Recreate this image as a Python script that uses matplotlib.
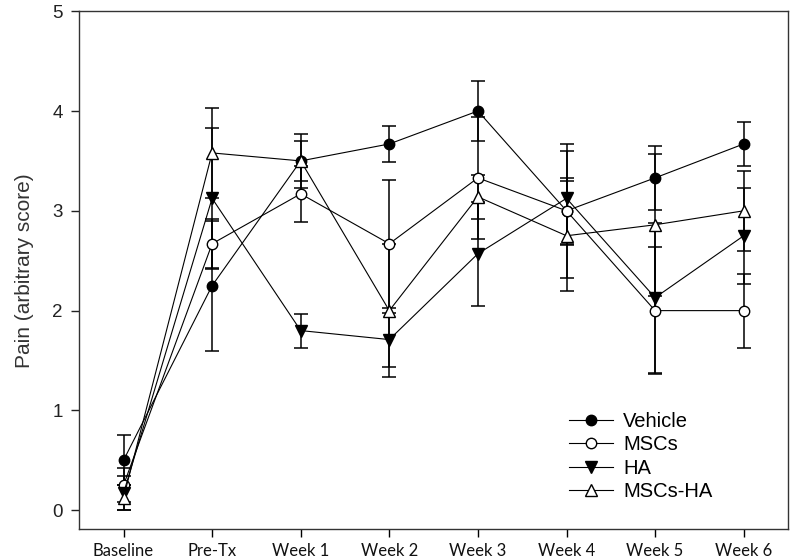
import matplotlib
matplotlib.use("Agg")
import matplotlib.pyplot as plt
import numpy as np

# time points
labels = ["Baseline", "Pre-Tx", "Week 1", "Week 2", "Week 3", "Week 4", "Week 5", "Week 6"]

# group means and error
vehicle = [0.5, 2.25, 3.5, 3.67, 4.0, 3.0, 3.33, 3.67]
vehicle_err = [0.25, 0.65, 0.27, 0.18, 0.3, 0.67, 0.32, 0.22]
mscs = [0.25, 2.67, 3.17, 2.67, 3.33, 3.0, 2.0, 2.0]
mscs_err = [0.17, 0.25, 0.28, 0.64, 0.61, 0.33, 0.64, 0.37]
ha = [0.17, 3.125, 1.8, 1.71, 2.57, 3.125, 2.13, 2.75]
ha_err = [0.17, 0.7, 0.17, 0.27, 0.52, 0.47, 0.75, 0.48]
mscs_ha = [0.125, 3.58, 3.5, 2.0, 3.14, 2.75, 2.86, 3.0]
mscs_ha_err = [0.125, 0.45, 0.2, 0.67, 0.22, 0.55, 0.71, 0.4]

plt.rcParams['font.family'] = ['Liberation Sans', 'DejaVu Sans']

fig = plt.figure(figsize=(8, 5.6), dpi=100)
ax = fig.add_axes([0.099, 0.055, 0.886, 0.925])

x = np.arange(len(labels))

series = [
    ("Vehicle", vehicle, vehicle_err, "o", "black", 7.5),
    ("MSCs", mscs, mscs_err, "o", "white", 7.5),
    ("HA", ha, ha_err, "v", "black", 8),
    ("MSCs-HA", mscs_ha, mscs_ha_err, "^", "white", 8),
]

for name, vals, err, mk, fc, ms in series:
    ax.errorbar(x, vals, yerr=err, fmt="none", ecolor="black", elinewidth=1.1,
                capsize=4.8, capthick=1.1, zorder=2)
for name, vals, err, mk, fc, ms in series:
    ax.plot(x, vals, color="black", lw=0.8, marker=mk, markersize=ms,
            markerfacecolor=fc, markeredgecolor="black", markeredgewidth=1.0,
            label=name, zorder=3)

ax.set_xlim(-0.5, 7.5)
ax.set_ylim(-0.19, 5)
ax.set_xticks(x)
ax.set_xticklabels(labels, fontsize=12, family=['Lato', 'DejaVu Sans'], color='#111111')
ax.set_yticks([0, 1, 2, 3, 4, 5])
ax.tick_params(axis='y', labelsize=13.5, length=6, width=1, direction='out', colors='#222222', pad=6)
ax.tick_params(axis='x', length=6, width=1, direction='out', pad=4)
for sp in ax.spines.values():
    sp.set_linewidth(1.0)
    sp.set_color('#333333')

ax.set_ylabel("Pain (arbitrary score)", fontsize=15, color='#333333', labelpad=13)

ax.legend(loc='upper left', bbox_to_anchor=(569 / 800, 1 - 412 / 560),
          bbox_transform=fig.transFigure, frameon=False, fontsize=14.5,
          handlelength=2.2, handletextpad=0.5, labelspacing=0.22, borderpad=0,
          borderaxespad=0)

fig.savefig("out.png", dpi=100)
